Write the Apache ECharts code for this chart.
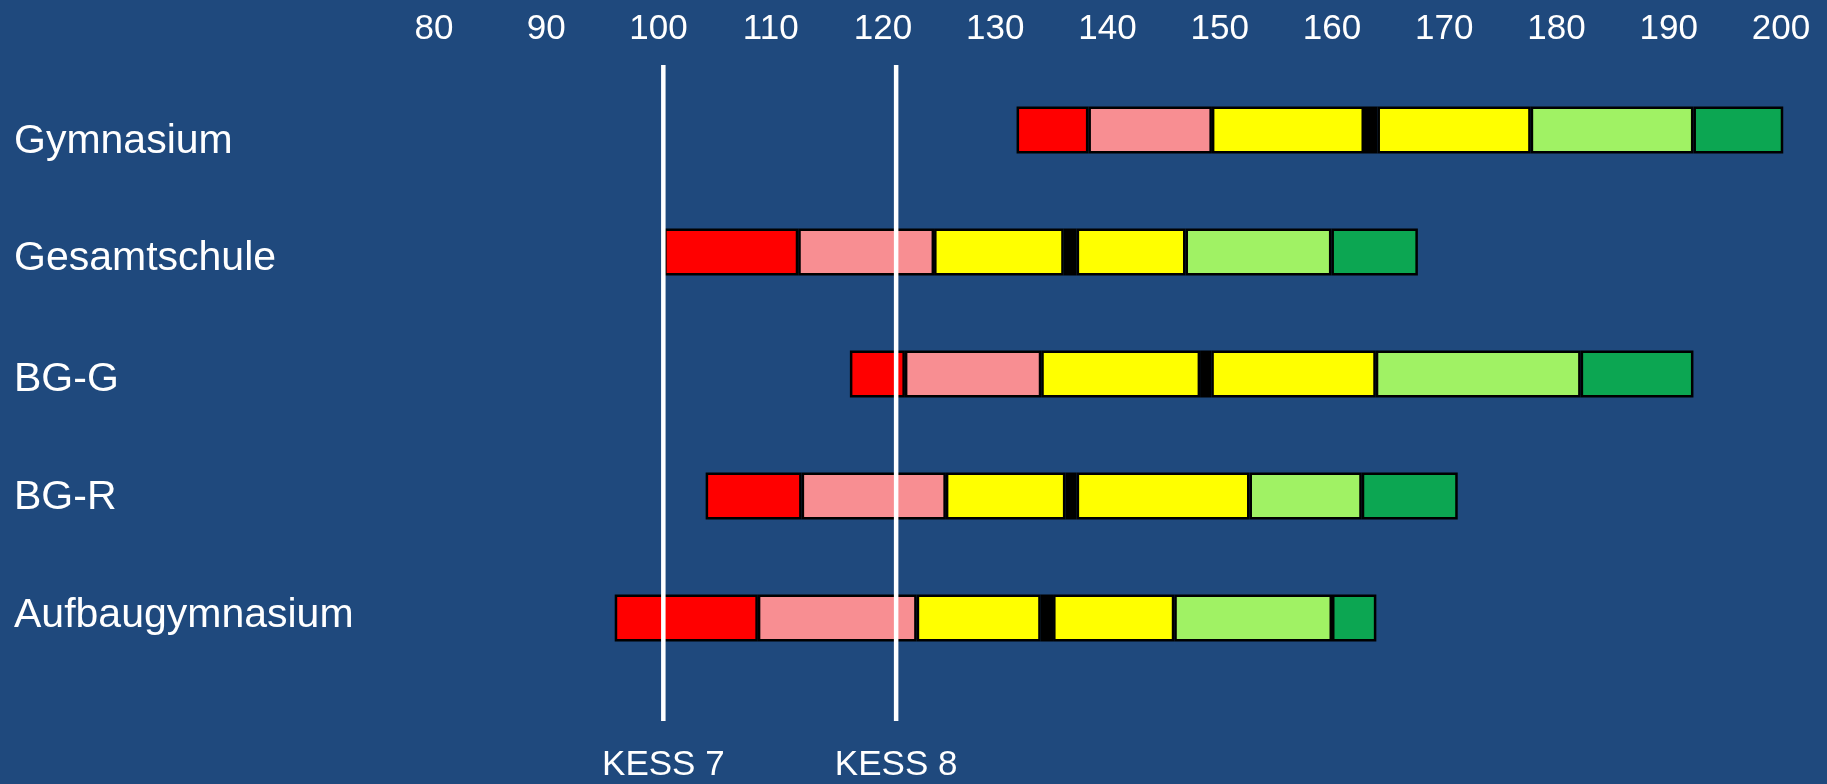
<!DOCTYPE html>
<html>
<head>
<meta charset="utf-8">
<script src="https://cdn.jsdelivr.net/npm/echarts@6/dist/echarts.min.js"></script>
<style>
html,body{margin:0;padding:0;background:#1F497D;}
#chart{width:1827px;height:784px;}
</style>
</head>
<body>
<div id="chart"></div>
<script>
// ---- data ----
const categories = ['Gymnasium', 'Gesamtschule', 'BG-G', 'BG-R', 'Aufbaugymnasium'];
const starts        = [131.9, 100.5, 117.05, 104.2, 96.1];
const redEnd        = [138.3, 112.45, 121.95, 112.75, 108.85];
const pinkEnd       = [149.3, 124.55, 134.1, 125.6, 123.0];
const yellowEnd     = [162.85, 136.1, 148.25, 136.25, 134.05];
const markEnd       = [164.05, 137.25, 149.25, 137.25, 135.15];
const yellow2End    = [177.7, 146.95, 163.9, 152.65, 145.95];
const lightGreenEnd = [192.2, 159.95, 182.15, 162.65, 160.0];
const darkGreenEnd  = [200.2, 167.65, 192.2, 171.2, 163.95];
const kessValues = [100.43, 121.17];
const kessLabels = ['KESS 7', 'KESS 8'];
const axisMin = 80, axisMax = 200, axisStep = 10;

// ---- chart ----
const FONT = '"Liberation Sans", Arial, sans-serif';
const boundaries = [starts, redEnd, pinkEnd, yellowEnd, markEnd, yellow2End, lightGreenEnd, darkGreenEnd];
const segColors = ['#FF0000', '#F88E92', '#FFFF00', '#000000', '#FFFF00', '#A0F264', '#0CA652'];
// per-label vertical nudge (style only): padding top/bottom for each category label
const labelPads = [[24, 0, 0, 0], [13, 0, 0, 0], [11, 0, 0, 0], [4, 0, 0, 0], [0, 0, 5, 0]];

const series = [{
  type: 'bar', stack: 'rng', barWidth: 47, clip: false, silent: true,
  itemStyle: { color: 'transparent', borderWidth: 0 },
  data: starts.slice()
}];
segColors.forEach((c, k) => {
  series.push({
    type: 'bar', stack: 'rng', barWidth: 47, clip: false, silent: true,
    itemStyle: { color: c, borderColor: '#000', borderWidth: 2.5 },
    data: boundaries[k + 1].map((v, i) => +(v - boundaries[k][i]).toFixed(3))
  });
});
series.push({
  type: 'custom', clip: false, silent: true, z: 10,
  data: kessValues.map(v => [v]),
  encode: { x: 0 },
  renderItem: function (params, api) {
    const x = api.coord([api.value(0), 0])[0];
    const cs = params.coordSys;
    const bottom = cs.y + cs.height;
    return {
      type: 'group',
      children: [
        { type: 'line', shape: { x1: x, y1: cs.y - 4, x2: x, y2: bottom + 42 },
          style: { stroke: '#FFFFFF', lineWidth: 4.5 } },
        { type: 'text', style: { text: kessLabels[params.dataIndex], x: x, y: bottom + 86,
          textAlign: 'center', textVerticalAlign: 'middle', fill: '#FFFFFF',
          font: '35px ' + FONT } }
      ]
    };
  }
});

const rich = {};
labelPads.forEach((p, i) => {
  rich['r' + i] = { color: '#FFFFFF', fontSize: 41, fontFamily: FONT, padding: p };
});

const chart = echarts.init(document.getElementById('chart'), null, { renderer: 'canvas' });
chart.setOption({
  backgroundColor: '#1F497D',
  animation: false,
  grid: { left: 434, right: 46, top: 69, bottom: 105, containLabel: false },
  xAxis: {
    type: 'value', position: 'top', min: axisMin, max: axisMax, interval: axisStep,
    axisLine: { show: false }, axisTick: { show: false }, splitLine: { show: false },
    axisLabel: { color: '#FFFFFF', fontSize: 35, fontFamily: FONT, margin: 22 }
  },
  yAxis: {
    type: 'category', data: categories, inverse: true,
    axisLine: { show: false }, axisTick: { show: false }, splitLine: { show: false },
    axisLabel: { color: '#FFFFFF', fontSize: 41, fontFamily: FONT, align: 'left', margin: 420,
      formatter: function (v, i) { return '{r' + i + '|' + v + '}'; },
      rich: rich }
  },
  series: series
});
</script>
</body>
</html>
